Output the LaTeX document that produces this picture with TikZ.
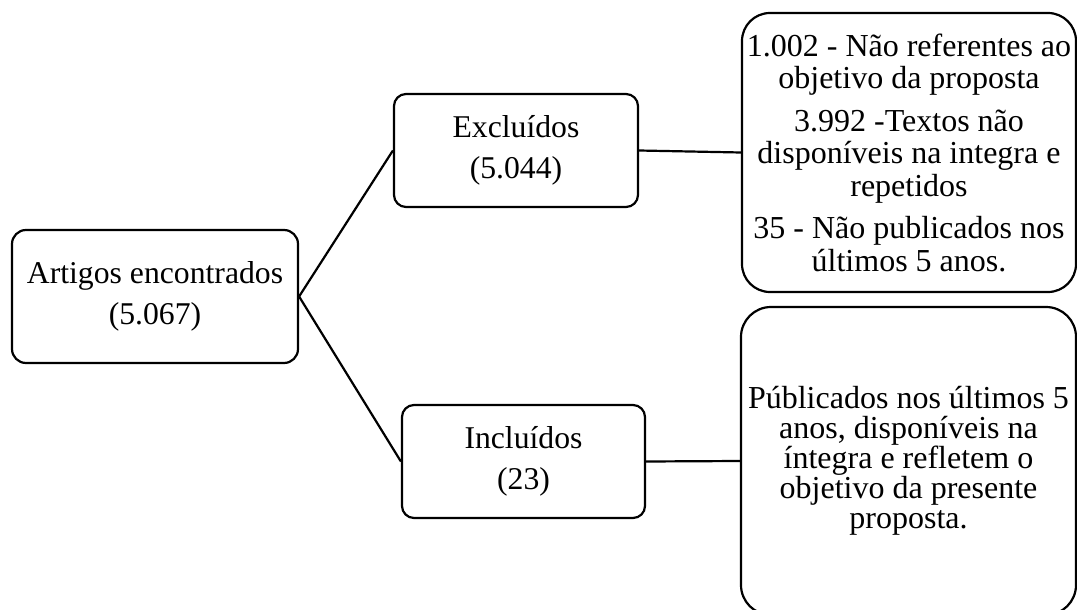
\documentclass[tikz,border=0pt]{standalone}
\usepackage{fontspec}
\setmainfont{Liberation Serif}
\begin{document}
\begin{tikzpicture}[x=1pt,y=-1pt,
  box/.style={draw=black,line width=2.2pt,rounded corners=#1,inner sep=0pt,align=center},
  box/.default=14pt,
  link/.style={draw=black,line width=2.2pt},
  twoline/.style={font=\fontsize{31.7}{41}\selectfont},
  many/.style={font=\fontsize{32}{32.5}\selectfont}]
\useasboundingbox (0,0) rectangle (1077,610);
\clip (0,0) rectangle (1077,610);
\fill[white] (0,0) rectangle (1077,610);
\node[box, twoline, minimum width=286pt, minimum height=133pt] (a) at (155,296.5)
  {Artigos encontrados\\(5.067)};
\node[box=12pt, twoline, minimum width=244pt, minimum height=113pt] (exc) at (516,150.5)
  {Excluídos\\(5.044)};
\node[box=12pt, twoline, minimum width=243pt, minimum height=113pt] (inc) at (523.5,461.5)
  {Incluídos\\(23)};
\node[box=28pt, many, minimum width=334pt, minimum height=279pt] (r1) at (909,152.5)
  {1.002 - Não referentes ao\\objetivo da proposta\\[10pt]
   3.992 -Textos não\\disponíveis na integra e\\repetidos\\[10pt]
   35 - Não publicados nos\\últimos 5 anos.};
\node[box=30pt, many, minimum width=335pt, minimum height=308pt, font=\fontsize{32}{30}\selectfont] (r2) at (908.5,461)
  {Públicados nos últimos 5\\anos, disponíveis na\\íntegra e refletem o\\objetivo da presente\\proposta.};
\draw[link] (a.east) -- (exc.west);
\draw[link] (a.east) -- (inc.west);
\draw[link] (exc.east) -- (r1.west);
\draw[link] (inc.east) -- (r2.west);
\end{tikzpicture}
\end{document}
